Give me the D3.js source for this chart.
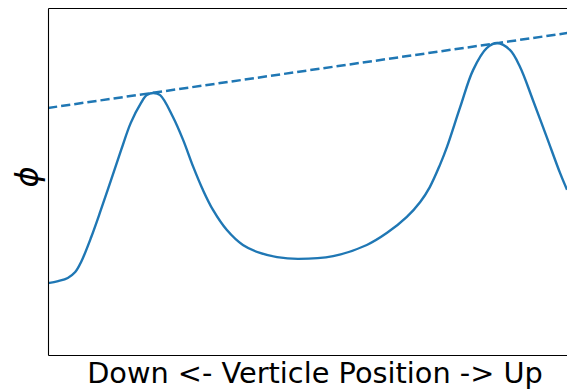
<!DOCTYPE html>
<html>
<head>
<meta charset="utf-8">
<script src="https://cdn.jsdelivr.net/npm/d3@7"></script>
<style>
  html, body { margin: 0; padding: 0; background: #fff; }
  svg { display: block; }
  text { font-family: "DejaVu Sans", sans-serif; fill: #000; }
</style>
</head>
<body>
<svg id="chart" width="567" height="390"></svg>
<script>
// Vertical position (0 = down, 100 = up) and field value phi along it
const position = [0, 1.9, 3.7, 5.1, 6.2, 8.1, 9.9, 11.8, 13.7, 15.5, 17.4, 18.5, 19.7, 21.0,
  23.4, 25.3, 27.2, 29.0, 30.9, 33.5, 36.5, 39.7, 42.9, 46.8, 53.4, 59.7, 63.5, 67.2,
  69.7, 71.5, 73.4, 74.7, 77.2, 79.6, 82.2, 84.1, 86.5, 88.4, 90.8, 93.4, 95.9, 97.2];
const phi = [20.7, 21.3, 22.2, 23.9, 26.8, 34.0, 41.8, 50.4, 59.1, 66.9, 72.6, 74.9, 75.5, 74.9,
  68.6, 62.0, 54.2, 47.6, 41.8, 36.0, 31.7, 29.4, 28.2, 27.7, 28.5, 31.7, 35.2, 39.8,
  44.1, 48.4, 54.8, 59.9, 71.5, 82.1, 88.5, 89.9, 87.9, 83.0, 73.5, 62.8, 52.4, 47.6];

// Upper envelope touching both peaks
const envelopePos = [0, 100];
const envelopePhi = [71.2, 93.4];

const xLabel = "Down <- Verticle Position -> Up";
const yLabel = "\u03D5";

const svg = d3.select("#chart");
const margin = { left: 48, top: 8, right: 582, bottom: 355 };

const x = d3.scaleLinear().domain([0, 100]).range([margin.left, margin.right]);
const y = d3.scaleLinear().domain([0, 100]).range([margin.bottom, margin.top]);

const color = "#1f77b4";

const line = d3.line()
  .x(d => x(d[0]))
  .y(d => y(d[1]))
  .curve(d3.curveCatmullRom.alpha(0.5));

svg.append("clipPath").attr("id", "plot-clip")
  .append("rect")
  .attr("x", margin.left).attr("y", margin.top)
  .attr("width", margin.right - margin.left).attr("height", margin.bottom - margin.top);

const plot = svg.append("g").attr("clip-path", "url(#plot-clip)");

plot.append("path")
  .datum(d3.zip(envelopePos, envelopePhi))
  .attr("d", d3.line().x(d => x(d[0])).y(d => y(d[1])))
  .attr("fill", "none")
  .attr("stroke", color)
  .attr("stroke-width", 2.5)
  .attr("stroke-dasharray", "9.25,4");

plot.append("path")
  .datum(d3.zip(position, phi))
  .attr("d", line)
  .attr("fill", "none")
  .attr("stroke", color)
  .attr("stroke-width", 2.4)
  .attr("stroke-linejoin", "round")
  .attr("stroke-linecap", "butt");

// Axes without ticks: only the frame
const xAxis = d3.axisBottom(x).tickValues([]).tickSizeOuter(0);
const yAxis = d3.axisLeft(y).tickValues([]).tickSizeOuter(0);
const xAxisTop = d3.axisTop(x).tickValues([]).tickSizeOuter(0);
const yAxisRight = d3.axisRight(y).tickValues([]).tickSizeOuter(0);

svg.append("g").attr("transform", `translate(0,${margin.bottom})`).call(xAxis);
svg.append("g").attr("transform", `translate(0,${margin.top})`).call(xAxisTop);
svg.append("g").attr("transform", `translate(${margin.left},0)`).call(yAxis);
svg.append("g").attr("transform", `translate(${margin.right},0)`).call(yAxisRight);
svg.selectAll(".domain").attr("stroke", "#000").attr("stroke-width", 1.1);

svg.append("text")
  .attr("x", (margin.left + margin.right) / 2)
  .attr("y", 383)
  .attr("text-anchor", "middle")
  .attr("font-size", 28.8)
  .text(xLabel);

svg.append("text")
  .attr("transform", `translate(38,177) rotate(-90)`)
  .attr("text-anchor", "middle")
  .attr("font-size", 32)
  .attr("font-style", "italic")
  .text(yLabel);
</script>
</body>
</html>
